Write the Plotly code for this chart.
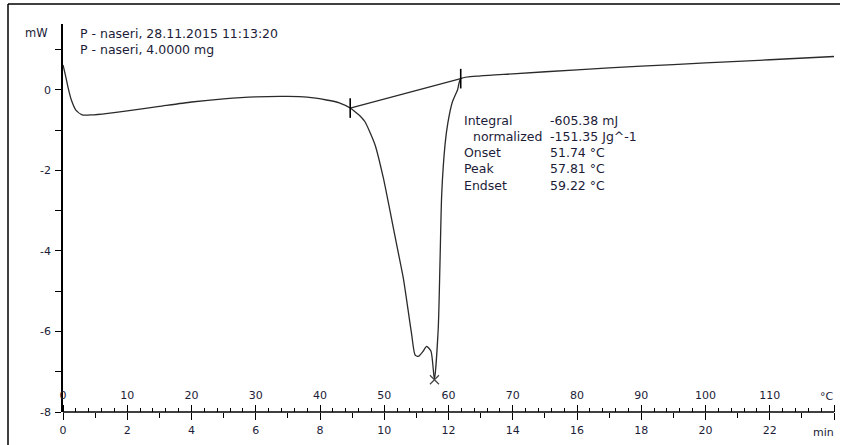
import plotly.graph_objects as go

# ---- data ----
temperature_c = [0.0, 0.4, 0.8, 1.3, 2.0, 3.0, 4.5, 7, 10, 15, 20, 25, 30, 35, 38, 41, 43,
                 44.7, 45.45, 46.2, 47.0, 48.56, 49.85, 50.89, 51.94, 52.96, 53.74, 54.27,
                 54.79, 55.3, 56.0, 56.6, 57.28, 57.81, 58.41, 58.68, 58.94, 59.46, 59.9,
                 60.6, 61.4, 61.9, 65, 70, 80, 90, 100, 110, 120]
heat_flow_mw = [0.62, 0.35, 0.05, -0.25, -0.5, -0.62, -0.62, -0.58, -0.52, -0.41, -0.30, -0.22,
                -0.17, -0.16, -0.18, -0.25, -0.32,
                -0.45, -0.54, -0.64, -0.79, -1.36, -2.18, -3.0, -3.85, -4.67, -5.5, -6.08,
                -6.58, -6.62, -6.5, -6.37, -6.49, -7.2, -5.9, -4.26, -2.6, -1.36, -0.82,
                -0.3, 0.0, 0.28,
                0.35, 0.40, 0.50, 0.59, 0.67, 0.75, 0.83]
heating_rate = 5.0  # K/min

baseline_t = [44.7, 61.9]
baseline_v = [-0.45, 0.28]
peak_t = [57.81]
peak_v = [-7.2]

temp_ticks = [0, 10, 20, 30, 40, 50, 60, 70, 80, 90, 100, 110, 120]
temp_labels = ["0", "10", "20", "30", "40", "50", "60", "70", "80", "90", "100", "110", ""]
temp_unit = "°C"
time_ticks = [0, 2, 4, 6, 8, 10, 12, 14, 16, 18, 20, 22, 24]
time_labels = ["0", "2", "4", "6", "8", "10", "12", "14", "16", "18", "20", "22", ""]
time_unit = "min"
mw_ticks = [0, -2, -4, -6, -8]
mw_labels = ["0", "-2", "-4", "-6", "-8"]

header_lines = ["P - naseri, 28.11.2015 11:13:20", "P - naseri, 4.0000 mg"]
info_labels = ["Integral", "normalized", "Onset", "Peak", "Endset"]
info_values = ["-605.38 mJ", "-151.35 Jg^-1", "51.74 °C", "57.81 °C", "59.22 °C"]

time_min = [t / heating_rate for t in temperature_c]

FONT = "DejaVu Sans"
TXT = "#1c1c38"

fig = go.Figure()
fig.add_trace(go.Scatter(x=temperature_c, y=heat_flow_mw, mode="lines",
                         line=dict(color="#2a2a2a", width=1.3, shape="spline", smoothing=0.6),
                         hoverinfo="skip", showlegend=False))
fig.add_trace(go.Scatter(x=time_min, y=heat_flow_mw, xaxis="x2", mode="lines",
                         line=dict(color="rgba(0,0,0,0)", width=0), hoverinfo="skip",
                         showlegend=False))
fig.add_trace(go.Scatter(x=baseline_t, y=baseline_v, mode="lines+markers",
                         line=dict(color="#2a2a2a", width=1.3),
                         marker=dict(symbol="line-ns", size=14, line=dict(color="black", width=1.6)),
                         hoverinfo="skip", showlegend=False))
fig.add_trace(go.Scatter(x=peak_t, y=peak_v, mode="markers",
                         marker=dict(symbol="x-thin", size=9, line=dict(color="#444", width=1.2)),
                         hoverinfo="skip", showlegend=False))

W, H = 842, 445
ml, mr, mt, mb = 63, 8, 24, 33
pw, ph = W - ml - mr, H - mt - mb


def px_x(p):
    return (p - ml) / pw


def px_y(p):
    return (H - mb - p) / ph


ann = []
ann.append(dict(text="mW", x=px_x(50), y=px_y(33), xref="paper", yref="paper",
                xanchor="right", yanchor="middle", showarrow=False,
                font=dict(family=FONT, size=11.5, color=TXT)))
ann.append(dict(text=temp_unit, x=px_x(836), y=px_y(396), xref="paper", yref="paper",
                xanchor="right", yanchor="middle", showarrow=False,
                font=dict(family=FONT, size=11, color=TXT)))
ann.append(dict(text=time_unit, x=px_x(836), y=px_y(432), xref="paper", yref="paper",
                xanchor="right", yanchor="middle", showarrow=False,
                font=dict(family=FONT, size=11, color=TXT)))
for i, line in enumerate(header_lines):
    ann.append(dict(text=line, x=px_x(78), y=px_y(33 + 17 * i), xref="paper", yref="paper",
                    xanchor="left", yanchor="middle", showarrow=False,
                    font=dict(family=FONT, size=12.5, color=TXT)))
for i, (lab, val) in enumerate(zip(info_labels, info_values)):
    yy = px_y(120 + 16.3 * i)
    xl = 471 if lab == "normalized" else 462
    ann.append(dict(text=lab, x=px_x(xl), y=yy, xref="paper", yref="paper",
                    xanchor="left", yanchor="middle", showarrow=False,
                    font=dict(family=FONT, size=12.5, color=TXT)))
    ann.append(dict(text=val, x=px_x(548), y=yy, xref="paper", yref="paper",
                    xanchor="left", yanchor="middle", showarrow=False,
                    font=dict(family=FONT, size=12.5, color=TXT)))

shapes = [
    dict(type="line", xref="paper", yref="paper", x0=px_x(8), x1=px_x(8),
         y0=px_y(4), y1=px_y(445), line=dict(color="black", width=1.5)),
    dict(type="line", xref="paper", yref="paper", x0=px_x(8), x1=px_x(840),
         y0=px_y(4), y1=px_y(4), line=dict(color="black", width=1.5)),
    dict(type="line", xref="paper", yref="paper", x0=0, x1=1, y0=0, y1=0,
         line=dict(color="black", width=1.5)),
]

fig.update_layout(
    width=W, height=H, margin=dict(l=ml, r=mr, t=mt, b=mb, pad=0, autoexpand=False),
    paper_bgcolor="white", plot_bgcolor="white",
    font=dict(family=FONT, size=11, color=TXT),
    annotations=ann, shapes=shapes,
    xaxis=dict(range=[0, 120], side="top", anchor="free", position=0,
               tickmode="array", tickvals=temp_ticks, ticktext=temp_labels,
               ticks="outside", ticklen=7, tickcolor="black", tickwidth=1.2,
               showgrid=False, zeroline=False, showline=False, automargin=False,
               minor=dict(dtick=2, tick0=0, ticks="outside", ticklen=4, tickcolor="black",
                          tickwidth=1),
               ticklabelstandoff=2,
               tickfont=dict(family=FONT, size=11, color=TXT)),
    xaxis2=dict(range=[0, 24], overlaying="x", anchor="y", side="bottom",
                tickmode="array", tickvals=time_ticks, ticktext=time_labels,
                ticks="outside", ticklen=7, tickcolor="black", tickwidth=1.2,
                showgrid=False, zeroline=False, showline=False, automargin=False,
                minor=dict(dtick=1, tick0=0, ticks="outside", ticklen=5, tickcolor="black",
                           tickwidth=1),
                ticklabelstandoff=1,
                tickfont=dict(family=FONT, size=11, color=TXT)),
    yaxis=dict(range=[-8, (90 - 24) / 40.3], tickmode="array", tickvals=mw_ticks,
               ticktext=mw_labels,
               ticks="outside", ticklen=6, tickcolor="black", tickwidth=1.2,
               showgrid=False, zeroline=False, showline=True, linecolor="black", linewidth=1.5,
               automargin=False,
               minor=dict(dtick=1, tick0=1, ticks="outside", ticklen=6, tickcolor="black",
                          tickwidth=1),
               ticklabelstandoff=2,
               tickfont=dict(family=FONT, size=11, color=TXT)),
)

fig.write_html("out.html", config={"displayModeBar": False},
               post_script="document.body.style.margin='0';document.body.style.overflow='hidden';")
